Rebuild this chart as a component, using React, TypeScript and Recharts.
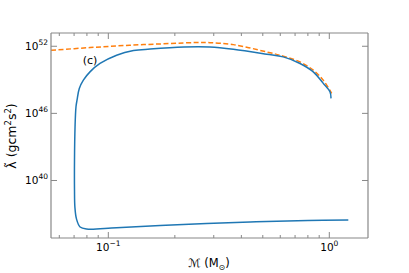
import React from 'react';
import { LineChart, Line, XAxis, YAxis } from 'recharts';

// ---- data ----
const massTicks = [0.06, 0.07, 0.08, 0.09, 0.1, 0.2, 0.3, 0.4, 0.5, 0.6, 0.7, 0.8, 0.9, 1];
const majorMassTicks = [0.1, 1];
const lambdaTicks = [1e40, 1e46, 1e52];

const blueMass = [
  1.018, 1.007, 0.939, 0.846, 0.737, 0.619, 0.521, 0.368, 0.288, 0.22, 0.1545, 0.13, 0.109,
  0.0917, 0.0826, 0.0771, 0.0739, 0.0722, 0.0714, 0.0707, 0.0703, 0.0703, 0.0706, 0.0718,
  0.0745, 0.0798, 0.109, 0.218, 0.438, 0.8, 1.219,
];
const blueLambda = [
  2.19e47, 8.5e47, 4.79e48, 5.13e49, 2.88e50, 1.12e51, 1.95e51, 5.37e51, 8.5e51, 8.5e51,
  5.6e51, 4.1e51, 1.58e51, 2.88e50, 5.13e49, 9.33e48, 1.7e48, 1.6e47, 3.89e46, 6.46e44,
  6.92e41, 1.48e39, 4.0e37, 3.5e36, 7.0e35, 4.57e35, 6.03e35, 1.17e36, 1.95e36, 2.69e36,
  2.95e36,
];

const orangeMass = [0.0551, 0.0826, 0.125, 0.19, 0.25, 0.288, 0.368, 0.521, 0.619, 0.737, 0.846, 0.939, 1.025];
const orangeLambda = [4.37e51, 7.59e51, 1.23e52, 1.74e52, 2.14e52, 2.1e52, 1.4e52, 3.09e51, 1.3e51, 3.98e50, 7.24e49, 9.33e48, 6.03e47];

const blueData = blueMass.map((m, i) => ({ m, v: blueLambda[i] }));
const orangeData = orangeMass.map((m, i) => ({ m, v: orangeLambda[i] }));

const AXIS = '#888888';
const FONT = 'DejaVu Sans';
const W = 409;
const H = 273;

// centripetal Catmull-Rom curve factory (smooth through the points)
const catmull = (context: any) => {
  let pts: number[][] = [];
  return {
    areaStart() {},
    areaEnd() {},
    lineStart() {
      pts = [];
    },
    point(x: number, y: number) {
      pts.push([+x, +y]);
    },
    lineEnd() {
      if (!pts.length) return;
      context.moveTo(pts[0][0], pts[0][1]);
      for (let i = 0; i < pts.length - 1; i++) {
        const p0 = pts[i - 1] || pts[i];
        const p1 = pts[i];
        const p2 = pts[i + 1];
        const p3 = pts[i + 2] || p2;
        const d = (a: number[], b: number[]) => Math.sqrt(Math.hypot(b[0] - a[0], b[1] - a[1]));
        const d1 = d(p0, p1);
        const d2 = d(p1, p2);
        const d3 = d(p2, p3);
        let c1 = p1;
        let c2 = p2;
        if (d1 > 1e-6 && d2 > 1e-6) {
          const a = 2 * d1 * d1 + 3 * d1 * d2 + d2 * d2;
          const n = 3 * d1 * (d1 + d2);
          c1 = [
            (d1 * d1 * p2[0] - d2 * d2 * p0[0] + a * p1[0]) / n,
            (d1 * d1 * p2[1] - d2 * d2 * p0[1] + a * p1[1]) / n,
          ];
        }
        if (d3 > 1e-6 && d2 > 1e-6) {
          const b = 2 * d3 * d3 + 3 * d3 * d2 + d2 * d2;
          const m = 3 * d3 * (d3 + d2);
          c2 = [
            (d3 * d3 * p1[0] - d2 * d2 * p3[0] + b * p2[0]) / m,
            (d3 * d3 * p1[1] - d2 * d2 * p3[1] + b * p2[1]) / m,
          ];
        }
        context.bezierCurveTo(c1[0], c1[1], c2[0], c2[1], p2[0], p2[1]);
      }
    },
  };
};

const isMajor = (v: number) => majorMassTicks.some((t) => Math.abs(t - v) < 1e-9);
const expStr = (v: number) => {
  const e = Math.round(Math.log10(v));
  return e < 0 ? '\u2212' + String(-e) : String(e);
};

const BottomTick = (props: any) => {
  const { x, y, payload } = props;
  const v = payload.value;
  const major = isMajor(v);
  return (
    <g>
      <line x1={x} x2={x} y1={y} y2={y - (major ? 6 : 3)} stroke={AXIS} strokeWidth={1} />
      {major && (
        <text x={x} y={y + 13} textAnchor="middle" fontSize={10.5} fontFamily={FONT} fill="#000">
          10
          <tspan dy={-5} fontSize={7.5}>{expStr(v)}</tspan>
        </text>
      )}
    </g>
  );
};

const TopTick = (props: any) => {
  const { x, y, payload } = props;
  const major = isMajor(payload.value);
  return <line x1={x} x2={x} y1={y} y2={y + (major ? 6 : 3)} stroke={AXIS} strokeWidth={1} />;
};

const LeftTick = (props: any) => {
  const { x, y, payload } = props;
  return (
    <g>
      <line x1={x} x2={x + 6} y1={y} y2={y} stroke={AXIS} strokeWidth={1} />
      <text x={x - 3} y={y + 4} textAnchor="end" fontSize={10.5} fontFamily={FONT} fill="#000">
        10
        <tspan dy={-5} fontSize={7.5}>{expStr(payload.value)}</tspan>
      </text>
    </g>
  );
};

const RightTick = (props: any) => {
  const { x, y } = props;
  return <line x1={x} x2={x - 6} y1={y} y2={y} stroke={AXIS} strokeWidth={1} />;
};

export default function App() {
  const xDomain = [0.05503, 1.4966];
  const yDomain = [7.24e34, 1.53e53];
  return (
    <div style={{ position: 'absolute', left: 0, top: 0, width: W, height: H, background: '#fff' }}>
      <LineChart width={W} height={H} margin={{ top: 32, right: 40, left: 0, bottom: 0 }}>
        <XAxis
          xAxisId={0}
          dataKey="m"
          type="number"
          scale="log"
          domain={xDomain}
          allowDataOverflow
          ticks={massTicks}
          interval={0}
          height={35}
          tickSize={0}
          tickMargin={0}
          tickLine={false}
          axisLine={{ stroke: AXIS, strokeWidth: 1.2 }}
          tick={<BottomTick />}
        />
        <XAxis
          xAxisId="top"
          orientation="top"
          dataKey="m"
          type="number"
          scale="log"
          domain={xDomain}
          allowDataOverflow
          ticks={massTicks}
          interval={0}
          height={1}
          tickSize={0}
          tickMargin={0}
          tickLine={false}
          axisLine={{ stroke: AXIS, strokeWidth: 1.2 }}
          tick={<TopTick />}
        />
        <YAxis
          yAxisId={0}
          dataKey="v"
          type="number"
          scale="log"
          domain={yDomain}
          allowDataOverflow
          ticks={lambdaTicks}
          interval={0}
          width={51}
          tickSize={0}
          tickMargin={0}
          tickLine={false}
          axisLine={{ stroke: AXIS, strokeWidth: 1.2 }}
          tick={<LeftTick />}
        />
        <YAxis
          yAxisId="right"
          orientation="right"
          dataKey="v"
          type="number"
          scale="log"
          domain={yDomain}
          allowDataOverflow
          ticks={lambdaTicks}
          interval={0}
          width={1}
          tickSize={0}
          tickMargin={0}
          tickLine={false}
          axisLine={{ stroke: AXIS, strokeWidth: 1.2 }}
          tick={<RightTick />}
        />
        <Line
          data={orangeData}
          dataKey="v"
          xAxisId={0}
          yAxisId={0}
          type={catmull as any}
          stroke="#ff7f0e"
          strokeWidth={1.5}
          strokeDasharray="5 2.5"
          dot={false}
          isAnimationActive={false}
        />
        <Line
          data={blueData}
          dataKey="v"
          xAxisId={0}
          yAxisId={0}
          type={catmull as any}
          stroke="#1f77b4"
          strokeWidth={1.5}
          dot={false}
          isAnimationActive={false}
        />
      </LineChart>
      <svg
        width={W}
        height={H}
        style={{ position: 'absolute', left: 0, top: 0, pointerEvents: 'none' }}
      >
        <text x={90} y={64} textAnchor="middle" fontSize={11} fontFamily={FONT} fill="#000">
          (c)
        </text>
        <text
          x={209}
          y={267}
          textAnchor="middle"
          fontSize={11.5}
          fontFamily={FONT}
          fill="#000"
        >
          {'\u2133 (M'}
          <tspan dy={2.5} fontSize={8}>{'\u2299'}</tspan>
          <tspan dy={-2.5}>)</tspan>
        </text>
        <text
          x={16}
          y={136}
          transform="rotate(-90 16 136)"
          textAnchor="middle"
          fontSize={12.5}
          fontFamily={FONT}
          fill="#000"
        >
          {'\u03BB\u0303 (gcm'}
          <tspan dy={-5} fontSize={8.5}>2</tspan>
          <tspan dy={5}>s</tspan>
          <tspan dy={-5} fontSize={8.5}>2</tspan>
          <tspan dy={5}>)</tspan>
        </text>
      </svg>
    </div>
  );
}
